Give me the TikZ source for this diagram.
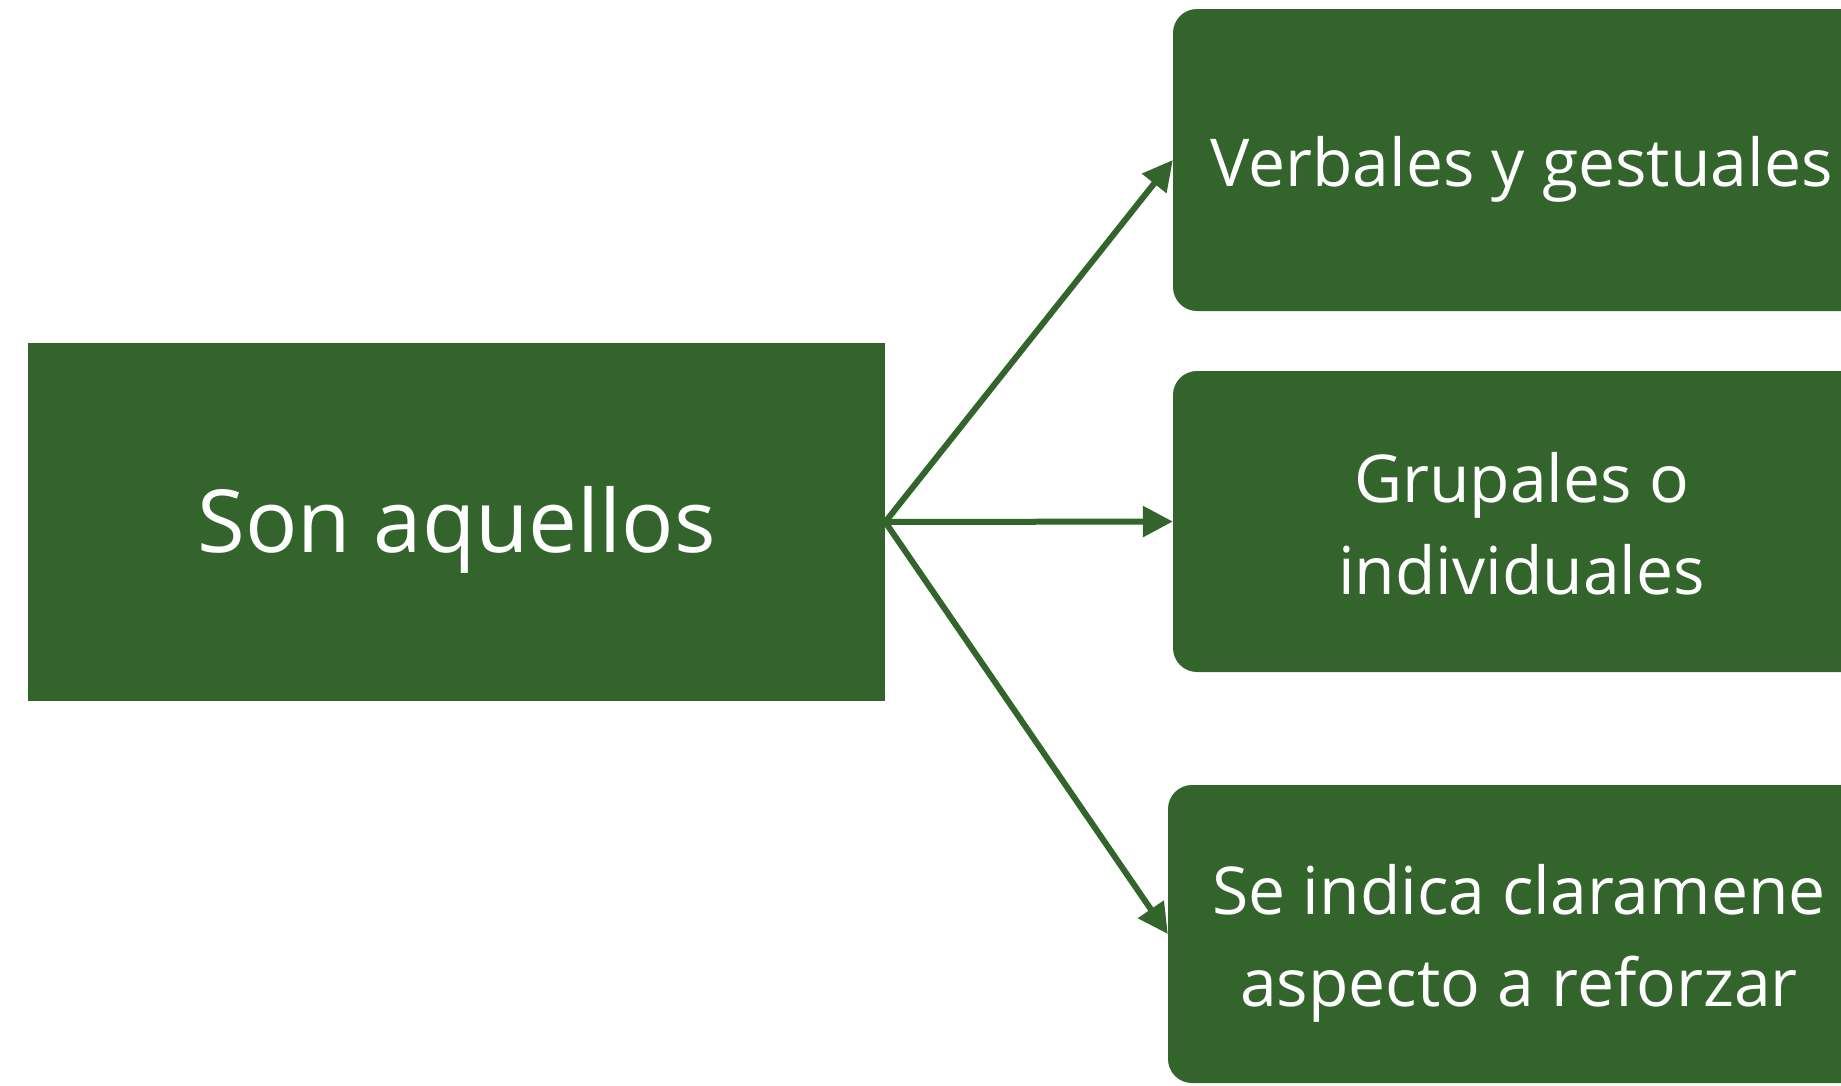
\documentclass[tikz,border=0pt]{standalone}
\usepackage{fontspec}
\setmainfont{Open Sans}
\usetikzlibrary{arrows.meta}
\definecolor{verde}{RGB}{50,100,44}
\newcommand{\alto}[1]{\rule{0pt}{#1}}

\tikzset{
  mainbox/.style={fill=verde, text=white, inner sep=0pt, minimum width=857, minimum height=358, font=\fontsize{87}{100}\selectfont},
  subbox/.style={fill=verde, text=white, rounded corners=24, inner sep=0pt, align=center, font=\fontsize{66}{92}\selectfont},
  flecha/.style={draw=verde, line width=6pt, -{Triangle[length=30pt, width=30pt]}}
}

\begin{document}
\begin{tikzpicture}[x=1pt, y=1pt, yscale=-1, xscale=1]
\useasboundingbox (0,0) rectangle (1841,1085);
\node[mainbox] (son) at (456.5,522) {\alto{82pt}Son aquellos};
\node[subbox, minimum width=697, minimum height=302] (verb) at (1521.5,160) {\alto{68pt}Verbales y gestuales};
\node[subbox, minimum width=697, minimum height=301] (grup) at (1521.5,521.5) {\alto{54pt}Grupales o\\individuales};
\node[subbox, minimum width=702, minimum height=298] (indi) at (1519,934) {\alto{68pt}Se indica claramene\\aspecto a reforzar};
\draw[flecha] (son.east) -- (verb.west);
\draw[flecha] (son.east) -- (grup.west);
\draw[flecha] (son.east) -- (indi.west);
\end{tikzpicture}
\end{document}
